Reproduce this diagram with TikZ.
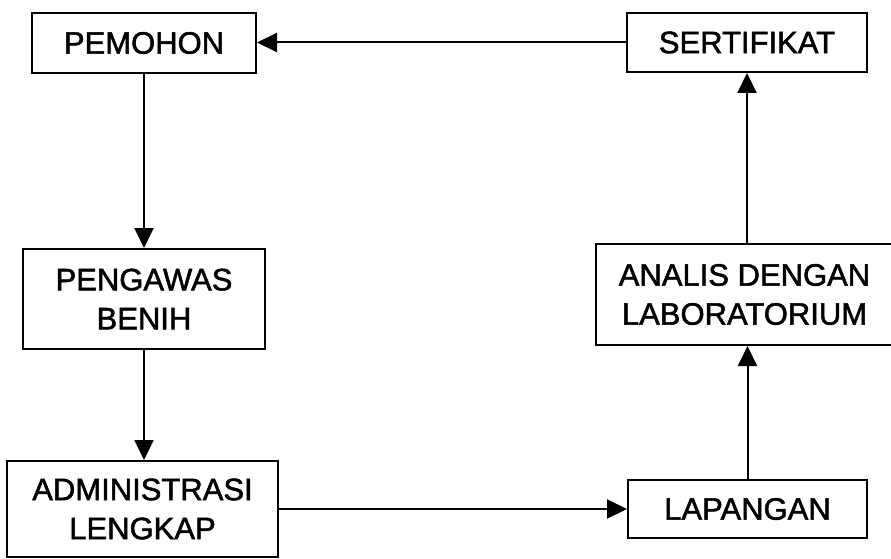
\documentclass[tikz,border=0pt]{standalone}
\usepackage{fontspec}
\setmainfont{Liberation Sans}
\newfontface\boxfont{Liberation Sans}[FakeBold=1.6]
\usetikzlibrary{arrows.meta}
\begin{document}
\begin{tikzpicture}[x=1pt,y=-1pt,
  box/.style={draw=black,line width=2pt,fill=white,rectangle,inner sep=0pt,
    align=center,font=\boxfont\fontsize{31}{39}\selectfont},
  conn/.style={line width=2pt,-{Triangle[length=20pt,width=19pt]}}]
\useasboundingbox (0,0) rectangle (891,559);
\node[box,minimum width=224pt,minimum height=60pt] (pem) at (144,43) {PEMOHON};
\node[box,minimum width=240pt,minimum height=59pt] (ser) at (747,42.5) {SERTIFIKAT};
\node[box,minimum width=242pt,minimum height=100pt] (pen) at (144,299) {PENGAWAS\\BENIH};
\node[box,minimum width=297pt,minimum height=101pt] (ana) at (744.5,294.5) {ANALIS DENGAN\\LABORATORIUM};
\node[box,minimum width=271pt,minimum height=96pt] (adm) at (142.5,509) {ADMINISTRASI\\LENGKAP};
\node[box,minimum width=239pt,minimum height=58pt] (lap) at (747.5,509) {LAPANGAN};
\draw[conn] (ser.west) -- (ser.west -| pem.east);
\draw[conn] (pem.south) -- (pem.south |- pen.north);
\draw[conn] (pen.south) -- (pen.south |- adm.north);
\draw[conn] (adm.east) -- (adm.east -| lap.west);
\draw[conn] (lap.north) -- (lap.north |- ana.south);
\draw[conn] (ana.north -| ser.south) -- (ser.south);
\end{tikzpicture}
\end{document}
